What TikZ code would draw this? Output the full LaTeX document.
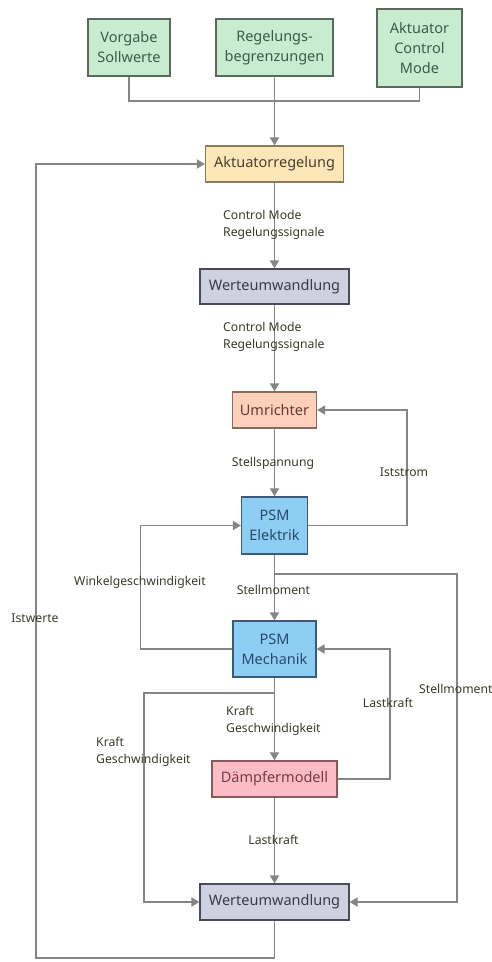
\documentclass[tikz,border=0pt]{standalone}
\usepackage{fontspec}
\setmainfont{Noto Sans}
\usetikzlibrary{arrows.meta}
\definecolor{lgray}{HTML}{858585}
\definecolor{lbltext}{HTML}{3A3A2A}
\tikzset{
  box/.style={draw, line width=1.2pt, rectangle, inner sep=0pt, align=center, font=\fontsize{14.5}{20}\selectfont},
  greenbox/.style={box, fill={rgb,255:red,200;green,236;blue,208}, draw={rgb,255:red,90;green,106;blue,90}, text={rgb,255:red,62;green,90;blue,74}},
  orangebox/.style={box, fill={rgb,255:red,253;green,230;blue,184}, draw={rgb,255:red,138;green,122;blue,90}, text={rgb,255:red,74;green,64;blue,48}},
  salmonbox/.style={box, fill={rgb,255:red,253;green,208;blue,188}, draw={rgb,255:red,138;green,106;blue,90}, text={rgb,255:red,106;green,58;blue,48}},
  bluebox/.style={box, fill={rgb,255:red,142;green,205;blue,244}, draw={rgb,255:red,58;green,90;blue,122}, text={rgb,255:red,42;green,74;blue,106}},
  pinkbox/.style={box, fill={rgb,255:red,251;green,188;blue,196}, draw={rgb,255:red,138;green,90;blue,90}, text={rgb,255:red,122;green,58;blue,74}},
  graybox/.style={box, fill={rgb,255:red,207;green,208;blue,224}, draw={rgb,255:red,74;green,74;blue,90}, text={rgb,255:red,58;green,58;blue,74}},
  conn/.style={draw=lgray, line width=1.8pt},
  arr/.style={conn, -{Triangle[width=9pt,length=8pt]}},
  lbl/.style={inner sep=0pt, text=lbltext, font=\fontsize{12.2}{17}\selectfont, align=left},
}
\begin{document}
\begin{tikzpicture}[x=1pt,y=1pt]
\useasboundingbox (0,0) rectangle (492,-962);
% boxes
\node[greenbox, minimum width=82pt, minimum height=57pt] (vorg) at (129,-47.5) {Vorgabe\\Sollwerte};
\node[greenbox, minimum width=117pt, minimum height=57pt] (regb) at (274.5,-47.5) {Regelungs-\\begrenzungen};
\node[greenbox, minimum width=85pt, minimum height=78pt] (mode) at (419.5,-48) {Aktuator\\Control\\Mode};
\node[orangebox, minimum width=138pt, minimum height=36pt] (akt) at (274.5,-164) {Aktuatorregelung};
\node[graybox, minimum width=149pt, minimum height=35pt] (wu1) at (274.5,-286.5) {Werteumwandlung};
\node[salmonbox, minimum width=84pt, minimum height=36pt] (umr) at (274.5,-410) {Umrichter};
\node[bluebox, minimum width=66pt, minimum height=57pt] (psme) at (274.5,-525.5) {PSM\\Elektrik};
\node[bluebox, minimum width=83pt, minimum height=56pt] (psmm) at (274.5,-649) {PSM\\Mechanik};
\node[pinkbox, minimum width=125pt, minimum height=36pt] (daem) at (274.5,-779) {Dämpfermodell};
\node[graybox, minimum width=149pt, minimum height=36pt] (wu2) at (274.5,-902) {Werteumwandlung};
% coordinates
\coordinate (j1) at (274.5,-101);
\coordinate (sm) at (274.5,-574);
\coordinate (smr) at (457,-574);
\coordinate (kg) at (274.5,-693);
\coordinate (kgl) at (144,-693);
\coordinate (bot) at (274.5,-958);
\coordinate (botl) at (36,-958);
% connectors
\draw[conn] (vorg.south) |- (j1) -| (mode.south);
\draw[arr] (regb.south) -- (akt.north);
\draw[arr] (akt.south) -- (wu1.north);
\draw[arr] (wu1.south) -- (umr.north);
\draw[arr] (umr.south) -- (psme.north);
\draw[arr] (psme.east) -- ++(99,0) |- (umr.east);
\draw[arr] (psme.south) -- (psmm.north);
\draw[arr] (psmm.west) -- ++(-92,0) |- (psme.west);
\draw[arr] (sm) -- (smr) |- (wu2.east);
\draw[arr] (psmm.south) -- (daem.north);
\draw[arr] (daem.east) -- ++(52,0) |- (psmm.east);
\draw[arr] (kg) -- (kgl) |- (wu2.west);
\draw[arr] (daem.south) -- (wu2.north);
\draw[arr] (wu2.south) -- (bot) -- (botl) |- (akt.west);
% labels
\node[lbl, anchor=west] (l1) at (223,-224.5) {Control Mode\\Regelungssignale};
\node[lbl, anchor=west] (l2) at (223,-336.5) {Control Mode\\Regelungssignale};
\node[lbl] (l3) at (273,-463) {Stellspannung};
\node[lbl] (l4) at (404,-472) {Iststrom};
\node[lbl] (l5) at (140,-582) {Winkelgeschwindigkeit};
\node[lbl] (l6) at (273.5,-590) {Stellmoment};
\node[lbl] (l7) at (35,-618) {Istwerte};
\node[lbl, anchor=west] (l8) at (419,-689) {Stellmoment};
\node[lbl] (l9) at (388,-703) {Lastkraft};
\node[lbl, anchor=west] (l10) at (226,-720.5) {Kraft\\Geschwindigkeit};
\node[lbl, anchor=west] (l11) at (96,-751.5) {Kraft\\Geschwindigkeit};
\node[lbl] (l12) at (273.5,-840) {Lastkraft};
\end{tikzpicture}
\end{document}
